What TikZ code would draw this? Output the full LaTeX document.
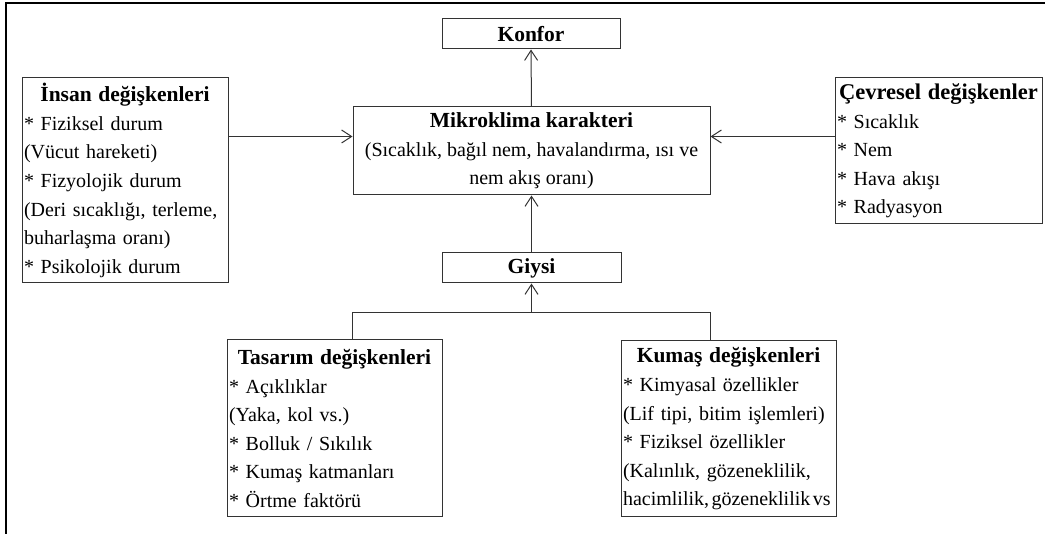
\documentclass[tikz,border=0pt]{standalone}
\usepackage{fontspec}
\setmainfont{Liberation Serif}
\usetikzlibrary{arrows.meta,calc}

\newcommand{\headfont}{\fontsize{21.5}{28.6}\selectfont\bfseries}
\newcommand{\boxtitle}[2][21.5]{\makebox[\linewidth][c]{\fontsize{#1}{28.6}\selectfont\bfseries #2}}

\begin{document}
\begin{tikzpicture}[x=1pt,y=-1pt,
  txt/.style={font=\fontsize{20}{28.6}\selectfont},
  box/.style={txt, draw=black!80, line width=1pt, inner sep=0pt, fill=white},
  listbox/.style={box, align=left, inner xsep=2pt},
  titlebox/.style={box, font=\headfont},
  link/.style={draw=black!80, line width=1pt},
  arr/.style={link, -{Straight Barb[length=10pt,width=13pt,line width=1pt]}}]

\useasboundingbox (0,0) rectangle (1045,534);

% page frame (top and left rules)
\draw[line width=2pt] (6,534) -- (6,3) -- (1045,3);

% boxes
\node[titlebox, minimum width=178, minimum height=30] (konfor) at (531,34) {Konfor};

\node[box, align=center, minimum width=357, minimum height=88] (mik) at (531.5,151)
  {{\headfont Mikroklima karakteri}\\
   (Sıcaklık, bağıl nem, havalandırma, ısı ve\\
   nem akış oranı)};

\node[listbox, text width=202, minimum height=205] (insan) at (125,180.5)
  {\boxtitle{İnsan değişkenleri}\\
   \mbox{* Fiziksel durum}\\
   \mbox{(Vücut hareketi)}\\
   \mbox{* Fizyolojik durum}\\
   \mbox{(Deri sıcaklığı, terleme,}\\
   \mbox{buharlaşma oranı)}\\
   \mbox{* Psikolojik durum}};

\node[listbox, text width=203, minimum height=146] (cev) at (938.5,151)
  {\boxtitle[22.5]{Çevresel değişkenler}\\
   \mbox{* Sıcaklık}\\
   \mbox{* Nem}\\
   \mbox{* Hava akışı}\\
   \mbox{* Radyasyon}};

\node[titlebox, minimum width=179, minimum height=30] (giysi) at (531.5,268) {Giysi};

\node[listbox, text width=211, minimum height=177] (tasarim) at (334.5,428.5)
  {\boxtitle{Tasarım değişkenleri}\\
   \mbox{* Açıklıklar}\\
   \mbox{(Yaka, kol vs.)}\\
   \mbox{* Bolluk / Sıkılık}\\
   \mbox{* Kumaş katmanları}\\
   \mbox{* Örtme faktörü}};

\node[listbox, text width=211, minimum height=176] (kumas) at (728.5,429)
  {\boxtitle{Kumaş değişkenleri}\\
   \mbox{* Kimyasal özellikler}\\
   \mbox{(Lif tipi, bitim işlemleri)}\\
   \mbox{* Fiziksel özellikler}\\
   \mbox{(Kalınlık, gözeneklilik,}\\
   \mbox{\spaceskip=0.12em hacimlilik, gözeneklilik vs}};

% connectors
\draw[arr] (mik.north) -- (konfor.south);

\coordinate (sideY) at ([yshift=-30pt]mik.north west);
\draw[arr] (insan.east |- sideY) -- (sideY);
\draw[arr] (cev.west |- sideY) -- (mik.east |- sideY);

\draw[arr] (giysi.north) -- (mik.south);

\coordinate (bar) at ([yshift=-29pt]giysi.south);
\draw[link] (tasarim.north -| mik.west) |- (bar) -| (kumas.north -| mik.east);
\draw[arr] (bar) -- (giysi.south);

\end{tikzpicture}
\end{document}
